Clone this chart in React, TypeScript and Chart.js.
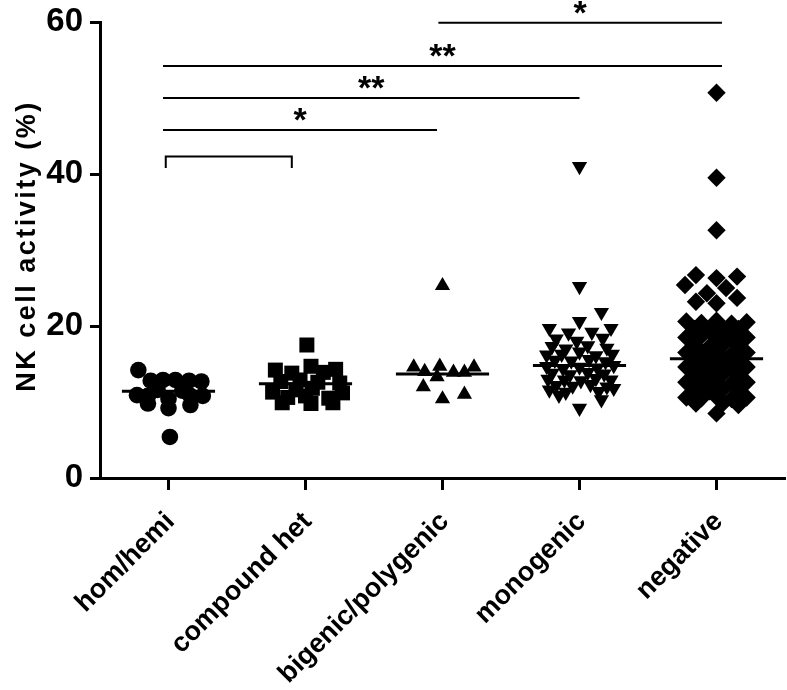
import { useEffect, useRef } from 'react'
import Chart from 'chart.js/auto'

const categories = ['hom/hemi', 'compound het', 'bigenic/polygenic', 'monogenic', 'negative']

// each point: [jitter within the column, NK cell activity (%)]
const homHemi: [number, number][] = [
  [-0.22, 14.2], [-0.13, 12.8], [-0.04, 12.9], [0.05, 12.9], [0.15, 12.8], [0.24, 12.7],
  [-0.08, 11.6], [0.1, 11.5],
  [-0.23, 10.9], [-0.15, 10.8], [0.0, 10.4], [0.16, 10.8], [0.25, 10.8],
  [-0.15, 9.8], [0.0, 9.2], [0.16, 9.6],
  [0.01, 5.4],
]

const compoundHet: [number, number][] = [
  [0.01, 17.5],
  [-0.22, 14.2], [-0.1, 13.8], [0.04, 14.7], [0.13, 13.9], [0.22, 14.3],
  [-0.18, 12.7], [-0.04, 12.9], [0.09, 12.6], [0.25, 12.5],
  [-0.24, 11.3], [-0.07, 11.6], [0.05, 11.8], [0.27, 11.2],
  [-0.13, 10.6], [0.0, 10.8], [0.17, 10.5],
  [-0.17, 9.9], [0.04, 9.8], [0.2, 9.9],
]

const bigenicPolygenic: [number, number][] = [
  [0.0, 25.3],
  [-0.21, 14.6], [-0.02, 14.7], [0.23, 14.6],
  [-0.13, 14.0], [0.08, 13.9], [0.16, 13.9],
  [-0.04, 13.3],
  [-0.14, 12.0], [0.0, 10.4], [0.16, 11.0],
]

const monogenic: [number, number][] = [
  [0.0, 41.0], [0.0, 25.2],
  [0.16, 21.8], [0.0, 20.6],
  [-0.22, 19.7], [0.23, 19.7], [-0.08, 19.1], [0.09, 19.2],
  [-0.17, 18.3], [0.17, 18.4], [-0.02, 18.0],
  [-0.2, 17.3], [-0.1, 17.0], [0.06, 17.4], [0.2, 17.1],
  [-0.24, 16.2], [-0.13, 16.3], [0.0, 16.6], [0.12, 16.1], [0.24, 16.3],
  [-0.18, 15.5], [-0.06, 15.4], [0.07, 15.6], [0.19, 15.3],
  [-0.24, 14.7], [-0.12, 14.4], [0.0, 14.6], [0.13, 14.5], [0.25, 14.8],
  [-0.2, 13.8], [-0.07, 13.6], [0.06, 13.9], [0.18, 13.7],
  [-0.23, 13.0], [-0.11, 12.9], [0.01, 12.8], [0.12, 13.1], [0.23, 12.9],
  [-0.17, 12.2], [-0.05, 12.1], [0.08, 12.3], [0.2, 12.0],
  [-0.22, 11.6], [0.25, 11.8], [-0.1, 11.3], [0.14, 11.4],
  [-0.15, 10.9], [0.16, 10.3], [0.0, 9.2],
]

const negative: [number, number][] = [
  [0.0, 50.7], [0.0, 39.5], [0.0, 32.6],
  [-0.15, 26.7], [0.0, 26.3], [0.15, 26.5], [-0.23, 25.4], [0.07, 25.0],
  [-0.07, 24.3], [0.15, 23.7], [-0.15, 23.2], [0.0, 23.0],
  [-0.22, 20.6], [-0.11, 20.4], [0.0, 20.7], [0.11, 20.3], [0.22, 20.5],
  [-0.16, 19.6], [-0.05, 19.4], [0.05, 19.5], [0.16, 19.6],
  [-0.22, 18.5], [-0.11, 18.7], [0.0, 18.4], [0.11, 18.6], [0.22, 18.5],
  [-0.16, 17.5], [-0.05, 17.3], [0.05, 17.6], [0.16, 17.4],
  [-0.22, 16.5], [-0.11, 16.4], [0.0, 16.6], [0.11, 16.3], [0.22, 16.5],
  [-0.16, 15.6], [-0.05, 15.5], [0.05, 15.7], [0.16, 15.5],
  [-0.22, 14.6], [-0.11, 14.4], [0.0, 14.7], [0.11, 14.5], [0.22, 14.6],
  [-0.16, 13.6], [-0.05, 13.4], [0.05, 13.7], [0.16, 13.5],
  [-0.22, 12.6], [-0.11, 12.5], [0.0, 12.7], [0.11, 12.4], [0.22, 12.6],
  [-0.16, 11.6], [-0.05, 11.4], [0.05, 11.7], [0.16, 11.5],
  [-0.22, 10.6], [-0.11, 10.5], [0.0, 10.7], [0.11, 10.4], [0.22, 10.6],
  [-0.15, 9.8], [0.05, 9.9], [0.16, 9.6],
  [0.0, 8.5],
]

const groups = [homHemi, compoundHet, bigenicPolygenic, monogenic, negative]
const medians = [11.4, 12.4, 13.7, 14.8, 15.7]

// significance bars: start and end on the x axis, height in %, label
const sigStart = [1.97, -0.04, -0.04, -0.04]
const sigEnd = [4.04, 4.04, 3.0, 1.96]
const sigLevel = [59.9, 54.2, 50.0, 45.8]
const sigLabel = ['*', '**', '**', '*']

// the unlabeled bracket between the first two groups
const bracketStart = -0.02
const bracketEnd = 0.9
const bracketTop = 42.3
const bracketFoot = 40.8

const pointStyles = ['circle', 'rect', 'triangle', 'triangle', 'rectRot']
const pointRotations = [0, 0, 0, 180, 0]
const pointRadii = [8.3, 10.6, 8.8, 8.8, 9.2]

const FONT = "'Liberation Sans', Arial, sans-serif"

const annotationPlugin = {
  id: 'annotations',
  afterDraw(chart: Chart) {
    const { ctx, chartArea, scales } = chart
    const x = scales.x
    const y = scales.y
    ctx.save()
    ctx.fillStyle = '#000'
    ctx.font = `bold 34px ${FONT}`
    ctx.textAlign = 'center'
    ctx.textBaseline = 'alphabetic'
    sigLabel.forEach((label, i) => {
      const mid = (x.getPixelForValue(sigStart[i]) + x.getPixelForValue(sigEnd[i])) / 2
      ctx.fillText(label, mid, y.getPixelForValue(sigLevel[i]) + 1)
    })

    // y axis title with the wide letter spacing of the original
    ctx.translate(28, (chartArea.top + chartArea.bottom) / 2 - 4)
    ctx.rotate(-Math.PI / 2)
    ctx.font = `bold 27px ${FONT}`
    ;(ctx as any).letterSpacing = '2.5px'
    ctx.textBaseline = 'middle'
    ctx.fillText('NK cell activity (%)', 0, 0)
    ctx.restore()
  },
}

function App() {
  const canvasRef = useRef<HTMLCanvasElement | null>(null)

  useEffect(() => {
    document.body.style.margin = '0'
    if (!canvasRef.current) {
      return undefined
    }

    const pointSets = groups.map((points, i) => ({
      label: categories[i],
      data: points.map(([dx, value]) => ({ x: i + dx, y: value })),
      pointStyle: pointStyles[i],
      pointRotation: pointRotations[i],
      pointRadius: pointRadii[i],
      pointHoverRadius: pointRadii[i],
      backgroundColor: '#000',
      borderColor: '#000',
      borderWidth: 0,
    }))

    const lineSet = (data: { x: number; y: number }[], width: number) => ({
      data,
      showLine: true,
      borderColor: '#000',
      borderWidth: width,
      pointRadius: 0,
      pointHoverRadius: 0,
      clip: false as const,
    })

    const medianSets = medians.map((m, i) =>
      lineSet(
        [
          { x: i - 0.34, y: m },
          { x: i + 0.34, y: m },
        ],
        3,
      ),
    )

    const sigSets = sigLevel.map((level, i) =>
      lineSet(
        [
          { x: sigStart[i], y: level },
          { x: sigEnd[i], y: level },
        ],
        2,
      ),
    )

    const bracketSet = lineSet(
      [
        { x: bracketStart, y: bracketFoot },
        { x: bracketStart, y: bracketTop },
        { x: bracketEnd, y: bracketTop },
        { x: bracketEnd, y: bracketFoot },
      ],
      2,
    )

    const chart = new Chart(canvasRef.current, {
      type: 'scatter',
      data: {
        datasets: [...medianSets, ...sigSets, bracketSet, ...pointSets] as any,
      },
      options: {
        animation: false,
        responsive: true,
        maintainAspectRatio: false,
        layout: {
          autoPadding: false,
          padding: { top: 22, right: 2, left: 0, bottom: 0 },
        },
        plugins: {
          legend: { display: false },
          tooltip: { enabled: false },
        },
        scales: {
          x: {
            type: 'linear',
            min: -0.5,
            max: 4.5,
            afterBuildTicks: (axis) => {
              axis.ticks = categories.map((_, i) => ({ value: i }))
            },
            afterFit: (axis: any) => {
              axis.height = 212
              axis.paddingLeft = 0
              axis.paddingRight = 0
            },
            ticks: {
              autoSkip: false,
              minRotation: 45,
              maxRotation: 45,
              padding: 16,
              labelOffset: 2,
              color: '#000',
              font: { family: FONT, size: 27, weight: 'bold' },
              callback: (value) => categories[Number(value)] ?? '',
            },
            grid: {
              drawOnChartArea: false,
              drawTicks: true,
              tickLength: 12,
              tickWidth: 3,
              tickColor: '#000',
            },
            border: { display: true, color: '#000', width: 3 },
          },
          y: {
            min: 0,
            max: 60,
            afterFit: (axis: any) => {
              axis.width = 100
              axis.paddingTop = 0
              axis.paddingBottom = 0
            },
            ticks: {
              stepSize: 20,
              padding: 7,
              color: '#000',
              font: { family: FONT, size: 33, weight: 'bold' },
            },
            grid: {
              drawOnChartArea: false,
              drawTicks: true,
              tickLength: 10,
              tickWidth: 3,
              tickColor: '#000',
            },
            border: { display: true, color: '#000', width: 3 },
          },
        },
      },
      plugins: [annotationPlugin],
    })

    return () => {
      chart.destroy()
    }
  }, [])

  return (
    <div style={{ width: 787, height: 690, position: 'relative' }}>
      <canvas ref={canvasRef} />
    </div>
  )
}

export default App
